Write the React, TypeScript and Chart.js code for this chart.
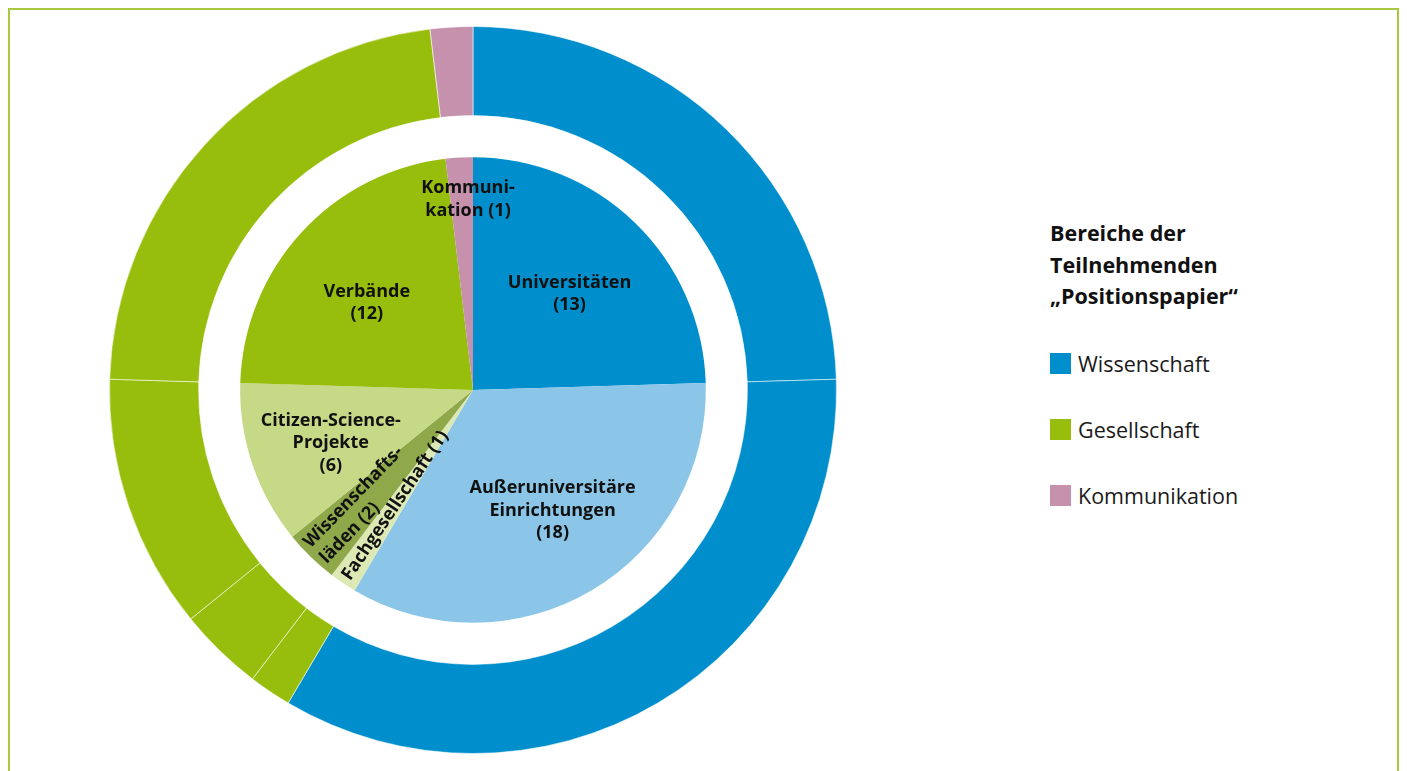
import React, { useEffect, useRef } from "react";
import { Chart, registerables } from "chart.js";

Chart.register(...registerables);

const categories = [
  "Universitäten",
  "Außeruniversitäre Einrichtungen",
  "Fachgesellschaft",
  "Wissenschaftsläden",
  "Citizen-Science-Projekte",
  "Verbände",
  "Kommunikation",
];
const values = [13, 18, 1, 2, 6, 12, 1];
const groupOf = [
  "Wissenschaft",
  "Wissenschaft",
  "Gesellschaft",
  "Gesellschaft",
  "Gesellschaft",
  "Gesellschaft",
  "Kommunikation",
];
const labelLines = [
  ["Universitäten", "(13)"],
  ["Außeruniversitäre", "Einrichtungen", "(18)"],
  ["Fachgesellschaft (1)"],
  ["Wissenschafts-", "läden (2)"],
  ["Citizen-Science-", "Projekte", "(6)"],
  ["Verbände", "(12)"],
  ["Kommuni-", "kation (1)"],
];
const groups = ["Wissenschaft", "Gesellschaft", "Kommunikation"];
const groupColors = ["#008fcc", "#98be0d", "#c591ad"];
const innerColors = ["#008fcc", "#8bc6e8", "#dde9b5", "#8fa84a", "#c6d986", "#98be0d", "#c591ad"];
const legendTitle = ["Bereiche der", "Teilnehmenden", "„Positionspapier“"];

// label placement (fraction of pie radius, angular nudge in degrees)
const labelRadius = [0.585, 0.62, 0.598, 0.975, 0.652, 0.59, 0.82];
const labelShift = [1.0, -2.9, 0, 0, -1.8, -3.1, 1.9];
const labelRotate = [false, false, true, true, false, false, false];
const labelAlign = ["center", "center", "center", "left", "center", "center", "center"];

const FONT = '"Open Sans", "Noto Sans", sans-serif';

const labelPlugin = {
  id: "innerLabels",
  afterDatasetsDraw(chart: any) {
    const meta = chart.getDatasetMeta(2);
    const ctx = chart.ctx;
    ctx.save();
    ctx.font = `bold 18px ${FONT}`;
    ctx.fillStyle = "#111111";
    ctx.textBaseline = "middle";
    const lh = 22.5;
    meta.data.forEach((arc: any, i: number) => {
      const p = arc.getProps(["x", "y", "startAngle", "endAngle", "outerRadius"], true);
      const mid = (p.startAngle + p.endAngle) / 2;
      const a = mid + (labelShift[i] * Math.PI) / 180;
      const r = p.outerRadius * labelRadius[i];
      const px = p.x + Math.cos(a) * r;
      const py = p.y + Math.sin(a) * r;
      ctx.save();
      ctx.translate(px, py);
      if (labelRotate[i]) ctx.rotate(mid + Math.PI);
      ctx.textAlign = labelAlign[i];
      const lines = labelLines[i];
      lines.forEach((ln, k) => {
        ctx.fillText(ln, 0, (k - (lines.length - 1) / 2) * lh);
      });
      ctx.restore();
    });
    ctx.restore();
  },
};

export default function App() {
  const ref = useRef<HTMLCanvasElement | null>(null);

  useEffect(() => {
    document.documentElement.style.overflow = "hidden";
    const outerColors = groupOf.map((g) => groupColors[groups.indexOf(g)]);
    const chart = new Chart(ref.current as HTMLCanvasElement, {
      type: "pie",
      data: {
        labels: categories,
        datasets: [
          {
            data: values,
            backgroundColor: outerColors,
            borderColor: "rgba(255,255,255,0.55)",
            borderWidth: 1,
            weight: 89,
          } as any,
          {
            data: values,
            backgroundColor: "rgba(255,255,255,0)",
            borderWidth: 0,
            weight: 41.5,
          } as any,
          {
            data: values,
            backgroundColor: innerColors,
            borderWidth: 0,
            weight: 232.5,
          } as any,
        ],
      },
      options: {
        responsive: false,
        animation: false,
        layout: { padding: 0 },
        plugins: {
          legend: { display: false },
          tooltip: { enabled: false },
        },
      },
      plugins: [labelPlugin],
    });
    return () => chart.destroy();
  }, []);

  return (
    <div
      style={{
        position: "relative",
        height: 800,
        borderTop: "2px solid #a8c840",
        borderLeft: "2px solid #a8c840",
        borderRight: "2px solid #a8c840",
        fontFamily: FONT,
      }}
    >
      <canvas
        ref={ref}
        width={728}
        height={728}
        style={{ position: "absolute", left: 99, top: 16, width: 728, height: 728 }}
      />
      <div style={{ position: "absolute", left: 1040, top: 207, color: "#111" }}>
        {legendTitle.map((t) => (
          <div key={t} style={{ fontWeight: 700, fontSize: 21.5, lineHeight: "31.5px", whiteSpace: "nowrap" }}>
            {t}
          </div>
        ))}
      </div>
      {groups.map((g, i) => (
        <div
          key={g}
          style={{
            position: "absolute",
            left: 1040,
            top: 343 + i * 66,
            display: "flex",
            alignItems: "center",
            fontSize: 21.5,
            color: "#1a1a1a",
            whiteSpace: "nowrap",
          }}
        >
          <span style={{ display: "inline-block", width: 21, height: 21, background: groupColors[i], marginRight: 7 }} />
          <span style={{ lineHeight: "21px" }}>{g}</span>
        </div>
      ))}
    </div>
  );
}
